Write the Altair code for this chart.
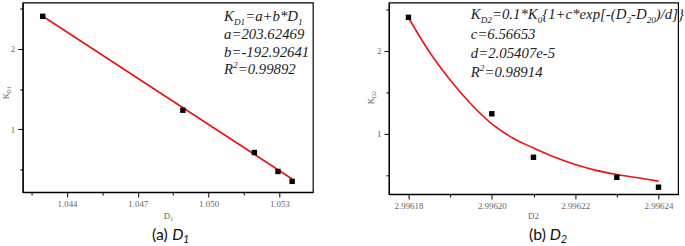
import altair as alt
import pandas as pd

# ---------------- data ----------------
a_x = [1.04297, 1.04891, 1.05194, 1.05294, 1.05354]
a_y = [2.404, 1.236, 0.710, 0.474, 0.351]
a_fit_x = [1.04297, 1.05354]
a_fit_y = [2.405, 0.38]

b_x = [2.99618, 2.99620, 2.99621, 2.99623, 2.99624]
b_y = [2.405, 1.242, 0.718, 0.476, 0.357]
b_fit_x = [2.99618, 2.996185, 2.99619, 2.996195, 2.99620, 2.996205, 2.99621,
           2.996215, 2.99622, 2.996225, 2.99623, 2.996235, 2.99624]
b_fit_y = [2.40, 1.99, 1.65, 1.36, 1.12, 0.95, 0.83, 0.72, 0.63, 0.56, 0.51, 0.47, 0.43]

a_xticks = [1.0425, 1.044, 1.0455, 1.047, 1.0485, 1.050, 1.0515, 1.053]
b_xticks = [2.99618, 2.99619, 2.99620, 2.99621, 2.99622, 2.99623, 2.99624]
y_ticks = [0.5, 1.0, 1.5, 2.0, 2.5]

a_eq = [("K", "n"), ("D1", "sub"), ("=a+b*D", "n"), ("1", "sub")]
a_l2 = [("a=203.62469", "n")]
a_l3 = [("b=-192.92641", "n")]
a_r2 = [("R", "n"), ("2", "sup"), ("=0.99892", "n")]
b_eq = [("K", "n"), ("D2", "sub"), ("=0.1*K", "n"), ("0", "sub"), ("{1+c*exp[-(D", "n"),
        ("2", "sub"), ("-D", "n"), ("20", "sub"), (")/d]}", "n")]
b_l2 = [("c=6.56653", "n")]
b_l3 = [("d=2.05407e-5", "n")]
b_r2 = [("R", "n"), ("2", "sup"), ("=0.98914", "n")]

# ---------------- helpers ----------------
ONE = pd.DataFrame({"k": [0]})
TW = {"(": 333, ")": 333, "*": 500, "+": 675, "-": 333, ".": 250, "/": 278, "=": 675,
      "D": 722, "K": 667, "R": 611, "[": 389, "]": 389, "a": 500, "b": 500, "c": 444,
      "d": 500, "e": 444, "p": 500, "x": 444, "{": 400, "}": 400, " ": 250}


def tw(s, size):
    return sum(TW.get(ch, 500) for ch in s) * size / 1000.0


def txt(x, y, s, size, style="italic", font="Liberation Serif", color="#222222",
        angle=0, align="left"):
    return alt.Chart(ONE).mark_text(
        align=align, baseline="alphabetic", font=font, fontStyle=style,
        fontSize=size, color=color, angle=angle
    ).encode(x=alt.value(x), y=alt.value(y), text=alt.value(s))


def rich(pieces, x0, y0, size=15):
    out = []
    x = x0
    for s, kind in pieces:
        if kind == "n":
            sz, dy = size, 0
        elif kind == "sub":
            sz, dy = size * 0.62, size * 0.27
        else:
            sz, dy = size * 0.62, -size * 0.4
        out.append(txt(x, y0 + dy, s, sz))
        x += tw(s, sz)
    return out


MAJ_A = "abs(datum.value*1000 - round(datum.value*1000)) < 0.01"
MAJ_B = "round((datum.value-2.99618)*100000) % 2 == 0"
MAJ_Y = "abs(datum.value - round(datum.value)) < 0.01"


def yaxis():
    return alt.Axis(values=y_ticks, title=None,
                    labelExpr=f"{MAJ_Y} ? format(datum.value, 'd') : ''",
                    tickSize={"condition": {"test": MAJ_Y, "value": 5}, "value": 3},
                    labelPadding=3)


def panel(px, py, fx, fy, xdom, ydom, xticks, maj, fmt, w, h):
    df = pd.DataFrame({"x": px, "y": py})
    fit = pd.DataFrame({"x": fx, "y": fy})
    xs = alt.Scale(domain=xdom, nice=False, zero=False)
    ys = alt.Scale(domain=ydom, nice=False, zero=False)
    xa = alt.Axis(values=xticks, title=None,
                  labelExpr=f"{maj} ? format(datum.value, '{fmt}') : ''",
                  tickSize={"condition": {"test": maj, "value": 5}, "value": 3},
                  labelPadding=3)
    line = alt.Chart(fit).mark_line(color="#ee1111", strokeWidth=1.6,
                                    interpolate="monotone").encode(
        x=alt.X("x:Q", scale=xs, axis=xa), y=alt.Y("y:Q", scale=ys, axis=yaxis()))
    pts = alt.Chart(df).mark_square(size=30, color="black", opacity=1).encode(
        x=alt.X("x:Q", scale=xs), y=alt.Y("y:Q", scale=ys))
    return [line, pts]


# ---------------- panel (a) ----------------
WA, HA = 294, 192
la = panel(a_x, a_y, a_fit_x, a_fit_y, [1.04212, 1.05442], [0.217, 2.575],
           a_xticks, MAJ_A, ".3f", WA, HA)
ax0 = 204
la += rich(a_eq, ax0, 19)
la += rich(a_l2, ax0, 37)
la += rich(a_l3, ax0, 55)
la += rich(a_r2, ax0, 72)
# axis titles
la.append(txt(-14, 98, "K", 9, style="normal", color="#666666", angle=270))
la.append(txt(-12, 92, "D1", 6, style="normal", color="#666666", angle=270))
la.append(txt(143, 219, "D", 9, style="normal", color="#666666"))
la.append(txt(149.5, 221, "1", 6, style="normal", color="#666666"))
# caption
la.append(txt(131, 241, "(a) ", 16, style="normal", font="Lato", color="#111111"))
la.append(txt(151.5, 241, "D", 16, style="italic", font="Lato", color="#111111"))
la.append(txt(162.5, 244, "1", 11, style="italic", font="Lato", color="#111111"))
chart_a = alt.layer(*la).properties(width=WA, height=HA)

# ---------------- panel (b) ----------------
WB, HB = 293, 194
lb = panel(b_x, b_y, b_fit_x, b_fit_y, [2.9961753, 2.9962447], [0.274, 2.583],
           b_xticks, MAJ_B, ".5f", WB, HB)
bx0 = 83
lb += rich(b_eq, bx0, 17)
lb += rich(b_l2, bx0, 37)
lb += rich(b_l3, bx0, 56)
lb += rich(b_r2, bx0, 75)
lb.append(txt(-15, 103, "K", 9, style="normal", color="#666666", angle=270))
lb.append(txt(-13, 97, "D2", 6, style="normal", color="#666666", angle=270))
lb.append(txt(146.5, 219, "D2", 9, style="normal", color="#666666", align="center"))
lb.append(txt(142, 241, "(b) ", 16, style="normal", font="Lato", color="#111111"))
lb.append(txt(163, 241, "D", 16, style="italic", font="Lato", color="#111111"))
lb.append(txt(174, 244, "2", 11, style="italic", font="Lato", color="#111111"))
chart_b = alt.layer(*lb).properties(width=WB, height=HB)

chart = alt.hconcat(chart_a, chart_b, spacing=53).properties(
    padding={"left": 1, "top": 0, "right": 0, "bottom": 0},
    background="white"
).configure_view(stroke="black", strokeWidth=1.2).configure_axis(
    domainColor="black", tickColor="black", domainWidth=1.2, tickWidth=1,
    labelFont="Liberation Serif", labelFontSize=9, labelColor="#666666", grid=False
)

chart.save("out.html", embed_options={"renderer": "svg", "actions": False})
